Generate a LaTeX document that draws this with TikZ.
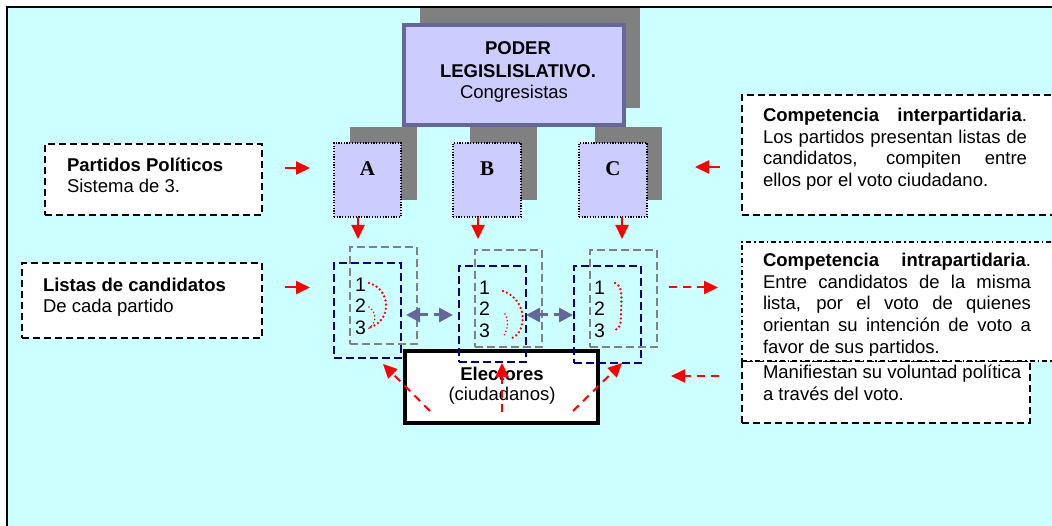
\documentclass[tikz,border=0pt]{standalone}
\usepackage{fontspec}
\setmainfont{Liberation Sans}
\newfontfamily\timesfont{Liberation Serif}
\usetikzlibrary{arrows.meta}
\definecolor{bgcyan}{HTML}{CCFFFF}
\definecolor{lav}{HTML}{CCCCFF}
\definecolor{slate}{HTML}{666699}
\definecolor{shadowgray}{HTML}{808080}
\definecolor{navyc}{HTML}{000080}
\definecolor{redc}{HTML}{FF0000}
\begin{document}
\begin{tikzpicture}[x=1pt,y=-1pt,
  font=\fontsize{18.5}{21.5}\selectfont,
  rect/.style={inner sep=0pt, outer sep=0pt, anchor=north west},
  shadowbox/.style={rect, fill=shadowgray, draw=none},
  poderbox/.style={rect, fill=lav, draw=slate, line width=3.5pt},
  partybox/.style={rect, fill=lav, draw=black, line width=1.8pt, dash pattern=on 1.2pt off 1.5pt},
  notebox/.style={rect, fill=white, draw=black, line width=2pt, dash pattern=on 7pt off 4pt},
  dotdashbox/.style={rect, fill=white, draw=black, line width=2pt, dash pattern=on 5pt off 3pt on 1.5pt off 3pt},
  graylist/.style={rect, draw=shadowgray, line width=2pt, dash pattern=on 8pt off 4pt},
  navylist/.style={rect, draw=navyc, line width=2pt, dash pattern=on 8pt off 4pt},
  elecbox/.style={rect, fill=white, draw=black, line width=4.5pt},
  txt/.style={inner sep=0pt, outer sep=0pt, anchor=base west},
  ctxt/.style={inner sep=0pt, outer sep=0pt, anchor=base},
  letter/.style={ctxt, font=\timesfont\bfseries\fontsize{21}{24}\selectfont},
  numtxt/.style={txt, font=\fontsize{19.5}{21}\selectfont},
  redarrow/.style={draw=redc, line width=2pt, -{Triangle[length=14pt,width=13pt]}, redc},
  reddash/.style={redarrow, dash pattern=on 8pt off 6pt},
  purplearrow/.style={draw=slate, line width=3pt, dash pattern=on 9pt off 6pt,
     {Triangle[length=14pt,width=14pt]}-{Triangle[length=14pt,width=14pt]}, slate},
  bigdots/.style={draw=redc, line width=2.6pt, line cap=round, dash pattern=on 0pt off 4.2pt},
  smalldots/.style={draw=redc, line width=1.7pt, line cap=round, dash pattern=on 0pt off 3.6pt}
]
\useasboundingbox (0,0) rectangle (1052,526);
% background and frame
\fill[bgcyan] (7,7) rectangle (1052,526);
\draw[line width=2pt] (7,526) -- (7,7) -- (1052,7);

% PODER LEGISLATIVO
\node[shadowbox, minimum width=220pt, minimum height=100pt] (ps) at (420,8) {};
\node[poderbox, minimum width=220pt, minimum height=100pt] (poder) at (404,25) {};
\node[ctxt, font=\bfseries\fontsize{18.5}{21.5}\selectfont] (p1) at (518,55) {PODER};
\node[ctxt, font=\bfseries\fontsize{18.5}{21.5}\selectfont] (p2) at (518,77.3) {LEGISLISLATIVO.};
\node[ctxt] (p3) at (514,99) {Congresistas};

% parties
\node[shadowbox, minimum width=67pt, minimum height=73pt] (sa) at (350,127) {};
\node[shadowbox, minimum width=67pt, minimum height=73pt] (sb) at (470,127) {};
\node[shadowbox, minimum width=67pt, minimum height=73pt] (sc) at (595,127) {};
\node[partybox, minimum width=67pt, minimum height=74pt] (A) at (334,143) {};
\node[partybox, minimum width=68pt, minimum height=74pt] (B) at (453,143) {};
\node[partybox, minimum width=68pt, minimum height=74pt] (C) at (579,143) {};
\node[letter] (la) at (367.5,175.7) {A};
\node[letter] (lb) at (487,175.7) {B};
\node[letter] (lc) at (613,175.7) {C};

% left notes
\node[notebox, minimum width=217pt, minimum height=71pt] (partidos) at (45,144) {};
\node[txt, font=\bfseries\fontsize{18.5}{21.5}\selectfont] (pt1) at (67,171.7) {Partidos Políticos};
\node[txt] (pt2) at (67,193) {Sistema de 3.};
\node[notebox, minimum width=240pt, minimum height=75pt] (listas) at (22,263) {};
\node[txt, font=\bfseries\fontsize{18.5}{21.5}\selectfont] (lt1) at (43,291.7) {Listas de candidatos};
\node[txt] (lt2) at (43,312.7) {De cada partido};

% right notes
\node[notebox, minimum width=320pt, minimum height=120pt] (inter) at (742,95) {};
\node[txt] (it1) at (763,121.7) {\makebox[264pt][s]{\textbf{Competencia interpartidaria}.}};
\node[txt] (it2) at (763,143.3) {\makebox[264pt][s]{Los partidos presentan listas de}};
\node[txt] (it3) at (763,165) {\makebox[264pt][s]{candidatos, compiten entre}};
\node[txt] (it4) at (763,186.5) {ellos por el voto ciudadano.};

\node[notebox, minimum width=288pt, minimum height=62pt] (manif) at (742,361) {};
\node[txt] (mt1) at (763,378.3) {Manifiestan su voluntad política};
\node[txt] (mt2) at (763,400) {a través del voto.};

\node[dotdashbox, minimum width=320pt, minimum height=119pt] (intra) at (742,242) {};
\begin{scope}
\clip (742,242) rectangle (1060,355.5);
\node[txt] (nt1) at (763,266.7) {\makebox[268pt][s]{\textbf{Competencia intrapartidaria}.}};
\node[txt] (nt2) at (763,288.3) {\makebox[268pt][s]{Entre candidatos de la misma}};
\node[txt] (nt3) at (763,310) {\makebox[268pt][s]{lista, por el voto de quienes}};
\node[txt] (nt4) at (763,331.7) {\makebox[268pt][s]{orientan su intención de voto a}};
\node[txt] (nt5) at (763,353.5) {favor de sus partidos.};
\end{scope}
\draw[black, line width=2pt, dash pattern=on 5pt off 3pt on 1.5pt off 3pt] (intra.south west) -- (intra.south east);

% electores
\node[elecbox, minimum width=193pt, minimum height=72pt] (elec) at (405,351) {};
\node[ctxt, font=\bfseries\fontsize{18.5}{21.5}\selectfont] (et1) at (502,380.7) {Electores};
\node[ctxt] (et2) at (502,400) {(ciudadanos)};

% candidate lists
\node[graylist, minimum width=67pt, minimum height=97pt] (ga) at (350,247) {};
\node[graylist, minimum width=67pt, minimum height=97pt] (gb) at (475,250) {};
\node[graylist, minimum width=67pt, minimum height=97pt] (gc) at (590,250) {};
\node[navylist, minimum width=67pt, minimum height=95pt] (na) at (334,263) {};
\node[navylist, minimum width=67pt, minimum height=96pt] (nb) at (459,266) {};
\node[navylist, minimum width=67pt, minimum height=97pt] (nc) at (574,266) {};

\node[numtxt] (a1) at (355,291.7) {1};
\node[numtxt] (a2) at (355,313) {2};
\node[numtxt] (a3) at (355,335) {3};
\node[numtxt] (b1) at (479,295) {1};
\node[numtxt] (b2) at (479,316) {2};
\node[numtxt] (b3) at (479,337.3) {3};
\node[numtxt] (c1) at (594,295) {1};
\node[numtxt] (c2) at (594,316) {2};
\node[numtxt] (c3) at (594,337.3) {3};

% red dotted arcs
\draw[bigdots] (369,283) .. controls (392,290) and (392,322) .. (368,328);
\draw[smalldots] (369,307) .. controls (377,313) and (377,323) .. (368,329);
\draw[bigdots] (503,291) .. controls (528,300) and (527,332) .. (512,338);
\draw[smalldots] (505,314) .. controls (509,320) and (508,330) .. (503,337);
\draw[bigdots] (615,283) .. controls (624,287) and (621,300) .. (621,313) .. controls (621,325) and (620,330) .. (613,330);

% arrows: left notes to parties / lists
\coordinate (t1) at (285,168);
\coordinate (h1) at (310,168);
\coordinate (t2) at (285,287.5);
\coordinate (h2) at (310,287.5);
\draw[redarrow] (t1) -- (h1);
\draw[redarrow] (t2) -- (h2);

% parties down to lists
\coordinate (da) at (358,239);
\coordinate (db) at (478,239);
\coordinate (dc) at (622,239);
\draw[redarrow] (A.south -| da) -- (da);
\draw[redarrow] (B.south -| db) -- (db);
\draw[redarrow] (C.south -| dc) -- (dc);

% right side arrows
\coordinate (r1t) at (720,167);
\coordinate (r1h) at (695,167);
\draw[redarrow] (r1t) -- (r1h);
\coordinate (r2t) at (669,287.5);
\coordinate (r2h) at (718,287.5);
\draw[reddash] (r2t) -- (r2h);
\coordinate (r3t) at (719,376);
\coordinate (r3h) at (671,376);
\draw[reddash] (r3t) -- (r3h);

% electores arrows
\coordinate (e1t) at (430,411);
\coordinate (e1h) at (383,364);
\coordinate (e2t) at (502,412);
\coordinate (e2h) at (502,363);
\coordinate (e3t) at (573,411);
\coordinate (e3h) at (622,363);
\draw[reddash] (e1t) -- (e1h);
\draw[reddash] (e2t) -- (e2h);
\draw[reddash] (e3t) -- (e3h);

% competition between lists
\coordinate (ab1) at (406,315);
\coordinate (ab2) at (453,315);
\coordinate (bc1) at (526,315);
\coordinate (bc2) at (573,315);
\draw[purplearrow] (ab1) -- (ab2);
\draw[purplearrow] (bc1) -- (bc2);
\end{tikzpicture}
\end{document}
